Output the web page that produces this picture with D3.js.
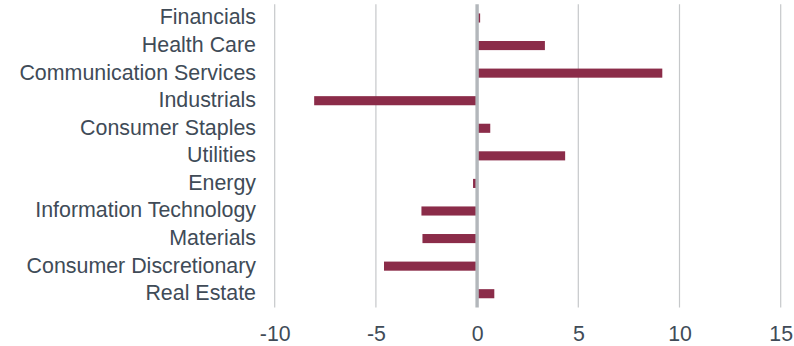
<!DOCTYPE html>
<html>
<head>
<meta charset="utf-8">
<script src="https://cdn.jsdelivr.net/npm/d3@7"></script>
<style>
  html, body { margin: 0; padding: 0; background: #fff; }
  svg { display: block; }
  text { font-family: "Liberation Sans", Arial, sans-serif; fill: #404b57; }
</style>
</head>
<body>
<svg id="chart" width="794" height="346"></svg>
<script>
// Sector contributions
const sectors = [
  "Financials", "Health Care", "Communication Services", "Industrials",
  "Consumer Staples", "Utilities", "Energy", "Information Technology",
  "Materials", "Consumer Discretionary", "Real Estate"
];
const values = [0.15, 3.35, 9.15, -8.05, 0.65, 4.35, -0.2, -2.75, -2.7, -4.6, 0.85];
const xTicks = [-10, -5, 0, 5, 10, 15];

const svg = d3.select("#chart");
const margin = { left: 274.7, right: 13.3, top: 4.2, bottom: 38.5 };
const W = 794, H = 346;

const x = d3.scaleLinear()
  .domain([-10, 15])
  .range([margin.left, W - margin.right]);

const y = d3.scaleBand()
  .domain(sectors)
  .range([margin.top, H - margin.bottom])
  .paddingInner(0.67)
  .paddingOuter(0.335);

// vertical gridlines
svg.append("g")
  .selectAll("line")
  .data(xTicks.filter(t => t !== 0))
  .join("line")
  .attr("x1", d => x(d)).attr("x2", d => x(d))
  .attr("y1", margin.top).attr("y2", H - margin.bottom)
  .attr("stroke", "#c6c8ca")
  .attr("stroke-width", 1.2);

// bars
svg.append("g")
  .selectAll("rect")
  .data(sectors.map((s, i) => ({ s, v: values[i] })))
  .join("rect")
  .attr("x", d => Math.min(x(0), x(d.v)))
  .attr("width", d => Math.abs(x(d.v) - x(0)))
  .attr("y", d => y(d.s))
  .attr("height", y.bandwidth())
  .attr("fill", "#8b2c49");

// zero line
svg.append("line")
  .attr("x1", x(0)).attr("x2", x(0))
  .attr("y1", margin.top).attr("y2", H - margin.bottom)
  .attr("stroke", "#b3b7bb")
  .attr("stroke-width", 3.4);

// x axis labels
const xAxis = d3.axisBottom(x).tickValues(xTicks).tickSize(0).tickPadding(0)
  .tickFormat(d => d < 0 ? "-" + Math.abs(d) : String(d));
const gx = svg.append("g")
  .attr("transform", `translate(0,${H - margin.bottom})`)
  .call(xAxis);
gx.select(".domain").remove();
gx.selectAll("text")
  .attr("y", 26)
  .attr("dy", "0.35em")
  .style("font-size", "21.3px")
  .style("font-family", "Liberation Sans, Arial, sans-serif")
  .attr("fill", "#404b57");

// category labels
const yAxis = d3.axisLeft(y).tickSize(0).tickPadding(0);
const gy = svg.append("g")
  .attr("transform", `translate(256,0)`)
  .call(yAxis);
gy.select(".domain").remove();
gy.selectAll("text")
  .attr("x", 0)
  .attr("dy", "0.3em")
  .style("font-size", "21.4px")
  .style("font-family", "Liberation Sans, Arial, sans-serif")
  .attr("fill", "#404b57");
</script>
</body>
</html>
